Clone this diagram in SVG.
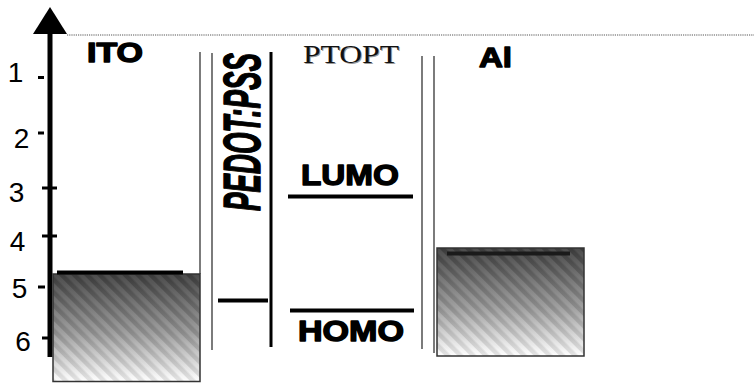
<svg xmlns="http://www.w3.org/2000/svg" width="754" height="383" viewBox="0 0 754 383">
  <style>
    .heavy { font-family: "Liberation Sans", Arial, sans-serif; font-weight: bold; fill: #000; stroke: #000; stroke-width: 1.4; stroke-linejoin: round; }
    .num { font-family: "Liberation Sans", Arial, sans-serif; font-size: 28px; fill: #000; text-anchor: middle; }
    .tick { stroke: #000; stroke-width: 3; }
    .thin { stroke: #444; stroke-width: 1.4; fill: none; }
    .thick { stroke: #000; stroke-width: 3; fill: none; }
    .level { stroke: #000; stroke-width: 4; }
    .metal { stroke: #333; stroke-width: 1.5; }
    .serif { font-family: "Liberation Serif", "Times New Roman", serif; font-size: 26px; }
  </style>
  <defs>
    <linearGradient id="metalShade" x1="0" y1="0" x2="0" y2="1">
      <stop offset="0" stop-color="#404040"/>
      <stop offset="0.55" stop-color="#9a9a9a"/>
      <stop offset="1" stop-color="#ffffff"/>
    </linearGradient>
    <pattern id="stripes" width="9" height="9" patternUnits="userSpaceOnUse" patternTransform="rotate(-45)">
      <rect x="0" y="0" width="4.5" height="9" fill="#000" fill-opacity="0.10"/>
      <rect x="4.5" y="0" width="4.5" height="9" fill="#fff" fill-opacity="0.06"/>
    </pattern>
  </defs>

  <rect width="754" height="383" fill="#fff"/>

  <!-- energy axis -->
  <g id="axis">
    <line x1="67" y1="35" x2="754" y2="35" stroke="#555" stroke-width="1" stroke-dasharray="1.2,1"/>
    <line x1="50" y1="32" x2="50" y2="357" stroke="#000" stroke-width="5"/>
    <polygon points="50,7 67,34 33,34" fill="#000"/>
    <line class="tick" x1="38" y1="77.5" x2="44" y2="77.5"/>
    <line class="tick" x1="38" y1="133" x2="44" y2="133"/>
    <line class="tick" x1="42" y1="188" x2="57" y2="188"/>
    <line class="tick" x1="42" y1="236" x2="57" y2="236"/>
    <line class="tick" x1="38" y1="287" x2="45" y2="287"/>
    <line class="tick" x1="42" y1="338" x2="48" y2="338"/>
    <line x1="53" y1="338" x2="57" y2="338" stroke="#999" stroke-width="3"/>
    <text class="num" x="15.5" y="82">1</text>
    <text class="num" x="21.5" y="148">2</text>
    <text class="num" x="16.5" y="202">3</text>
    <text class="num" x="17.5" y="251">4</text>
    <text class="num" x="19.5" y="298">5</text>
    <text class="num" x="23" y="351">6</text>
  </g>

  <!-- ITO electrode -->
  <g id="ito">
    <line class="thin" x1="200" y1="52" x2="200" y2="274"/>
    <rect x="53" y="274" width="147" height="107.5" fill="url(#metalShade)"/>
    <rect x="53" y="274" width="147" height="107.5" fill="url(#stripes)" class="metal"/>
    <line class="level" x1="57" y1="272.5" x2="183" y2="272.5"/>
    <text class="heavy" x="87" y="62" font-size="28" textLength="56" lengthAdjust="spacingAndGlyphs">ITO</text>
  </g>

  <!-- PEDOT:PSS layer -->
  <g id="pedot">
    <line class="thin" x1="212" y1="53" x2="212" y2="350"/>
    <line class="thick" x1="271" y1="52" x2="271" y2="347"/>
    <line class="level" x1="218" y1="300.5" x2="268" y2="300.5"/>
    <text class="heavy" transform="translate(260,211) rotate(-90)" x="0" y="0" font-size="52" font-style="italic" textLength="158" lengthAdjust="spacingAndGlyphs">PEDOT:PSS</text>
  </g>

  <!-- PTOPT layer -->
  <g id="ptopt">
    <line class="thin" x1="422" y1="56" x2="422" y2="349"/>
    <line class="thin" x1="434" y1="56" x2="434" y2="353"/>
    <text class="serif" x="304" y="64" fill="#999" textLength="96" lengthAdjust="spacingAndGlyphs">PTOPT</text>
    <text class="serif" x="303" y="63" fill="#111" textLength="96" lengthAdjust="spacingAndGlyphs">PTOPT</text>
    <text class="heavy" x="301" y="185" font-size="30" textLength="98" lengthAdjust="spacingAndGlyphs">LUMO</text>
    <line class="level" x1="288" y1="196.5" x2="413" y2="196.5"/>
    <line class="level" x1="290" y1="310.5" x2="414" y2="310.5"/>
    <text class="heavy" x="298" y="341" font-size="29" textLength="106" lengthAdjust="spacingAndGlyphs">HOMO</text>
  </g>

  <!-- Al electrode -->
  <g id="al">
    <rect x="437" y="248" width="147" height="108" fill="url(#metalShade)"/>
    <rect x="437" y="248" width="147" height="108" fill="url(#stripes)" class="metal"/>
    <line x1="447" y1="253.5" x2="570" y2="253.5" stroke="#1a1a1a" stroke-width="4"/>
    <text class="heavy" x="479" y="67" font-size="28" textLength="33" lengthAdjust="spacingAndGlyphs">Al</text>
  </g>
</svg>
